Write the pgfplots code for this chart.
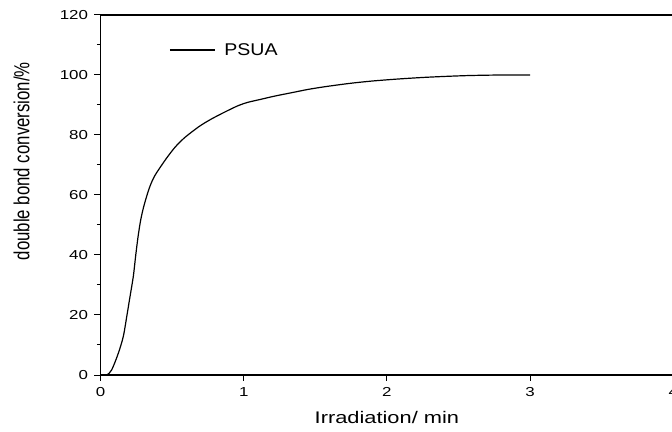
\documentclass[border=0pt]{standalone}
\usepackage{fontspec}
\setmainfont[FakeStretch=1.3]{Liberation Sans}
\newfontfamily\ylabfont[FakeStretch=0.77]{Liberation Sans}
\newfontfamily\legfont[FakeStretch=1.15]{Liberation Sans}
\usepackage{pgfplots}
\pgfplotsset{compat=1.18}
\begin{document}
\begin{tikzpicture}
\begin{axis}[
  at={(100.5bp,57bp)}, anchor=south west,
  scale only axis,
  width=572.8bp, height=360bp,
  xmin=0, xmax=4, ymin=0, ymax=120,
  xtick={0,1,2,3,4}, ytick={0,20,...,120},
  minor ytick={10,30,...,110},
  tick align=outside,
  xtick pos=left, ytick pos=left,
  major tick length=6bp, minor tick length=3.5bp,
  tick style={black, line width=1bp},
  axis line style={line width=1.6bp},
  /pgf/number format/assume math mode=true,
  ticklabel style={font=\fontsize{13bp}{15bp}\selectfont},
  xticklabel style={yshift=-3bp},
  yticklabel style={xshift=-3bp},
  xlabel={Irradiation/ min},
  ylabel={\ylabfont double bond conversion/\%},
  every axis x label/.style={at={(axis description cs:0.5,0)}, anchor=center, yshift=-42bp, font=\fontsize{16.8bp}{19bp}\selectfont},
  every axis y label/.style={at={(axis description cs:0,0.594)}, anchor=center, xshift=-78.8bp, rotate=90, font=\fontsize{21.8bp}{24bp}\selectfont},
  legend style={at={(axis description cs:0.1195,0.903)}, anchor=west, draw=none, fill=none, inner sep=0pt, font=\legfont\fontsize{17bp}{19bp}\selectfont, cells={anchor=west}},
  legend image code/.code={\draw[#1] (0bp,0bp) -- (45bp,0bp);},
  legend cell align=left,
]
\addplot[black, line width=1.2bp, smooth] coordinates {
(0,0) (0.043,0) (0.078,1.7) (0.124,7.2) (0.159,12.8) (0.183,19.4) (0.206,26.1)
(0.229,32.8) (0.246,39.9) (0.262,46) (0.280,51.5) (0.300,55.8) (0.322,59.5)
(0.34,62.2) (0.36,64.6) (0.38,66.5) (0.404,68.3) (0.46,72.2) (0.520,75.9)
(0.580,78.8) (0.637,81.0) (0.70,83.2) (0.777,85.4) (0.87,87.7) (0.962,89.8)
(1.03,90.9) (1.102,91.7) (1.22,93) (1.335,94.1) (1.45,95.2) (1.568,96.1)
(1.74,97.2) (1.90,98.0) (2.09,98.7) (2.30,99.3) (2.56,99.8) (2.80,100) (3.0,100)
};
\addlegendentry{\hspace{7bp}PSUA}
\end{axis}
\pgfresetboundingbox
\path (0,0) rectangle (672bp,432bp);
\end{tikzpicture}
\end{document}
